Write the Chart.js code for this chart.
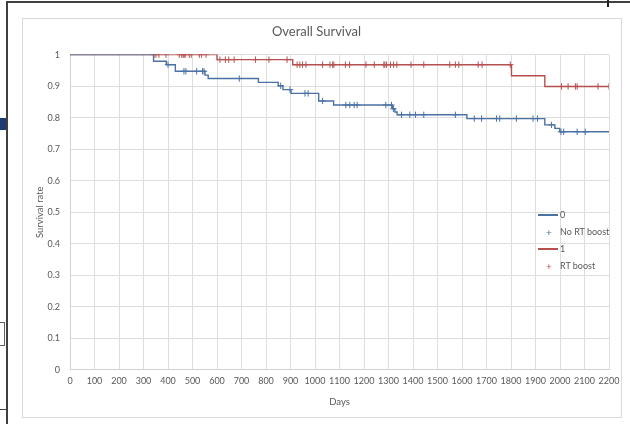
<!DOCTYPE html>
<html>
<head>
<meta charset="utf-8">
<script src="https://cdn.jsdelivr.net/npm/chart.js@4.4.1/dist/chart.umd.min.js"></script>
<style>
html,body{margin:0;padding:0;background:#fff;}
#wrap{position:relative;width:630px;height:424px;overflow:hidden;background:#fff;font-family:Lato,'Noto Sans',sans-serif;}
#panel{position:absolute;left:22px;top:18px;width:600px;height:400px;border:1px solid #d9d9d9;background:#fff;box-sizing:border-box;}
#c{position:absolute;left:0;top:0;}
.dk{position:absolute;background:#404040;}
.leg{position:absolute;font-size:9px;color:#595959;line-height:10px;white-space:nowrap;}
.lline{position:absolute;height:2px;}
.lplus{position:absolute;font-size:10px;line-height:10px;}
</style>
</head>
<body>
<div id="wrap">
  <div class="dk" style="left:6px;top:1px;width:624px;height:2px;"></div>
  <div class="dk" style="left:6px;top:1px;width:2px;height:423px;"></div>
  <div class="dk" style="left:607px;top:0px;width:2px;height:7px;background:#202020;"></div>
  <div style="position:absolute;left:0;top:118px;width:6px;height:12px;background:#1f3b73;"></div>
  <div style="position:absolute;left:-2px;top:322px;width:6px;height:22px;border:1px solid #606060;border-left:none;"></div>
  <div class="dk" style="left:0px;top:409px;width:8px;height:1px;"></div>
  <div id="panel"></div>
  <canvas id="c" width="630" height="424"></canvas>
  <div class="lline" style="left:538px;top:214px;width:20px;background:#4a72a5;"></div>
  <div class="leg" style="left:560px;top:210px;">0</div>
  <div class="lplus" style="left:546px;top:227px;color:#4a72a5;">+</div>
  <div class="leg" style="left:560px;top:227px;">No RT boost</div>
  <div class="lline" style="left:538px;top:248px;width:20px;background:#b5504f;"></div>
  <div class="leg" style="left:560px;top:244px;">1</div>
  <div class="lplus" style="left:546px;top:261px;color:#b5504f;">+</div>
  <div class="leg" style="left:560px;top:261px;">RT boost</div>
</div>
<script>
// Kaplan-Meier step points (day of drop, survival after drop)
const blueStepDays = [0, 341, 393, 430, 551, 564, 769, 850, 869, 902, 1015, 1076, 1316, 1326, 1335, 1620, 1938, 1979, 1999, 2200];
const blueStepSurv = [1, 0.979, 0.968, 0.947, 0.935, 0.924, 0.912, 0.901, 0.889, 0.877, 0.853, 0.840, 0.828, 0.818, 0.809, 0.797, 0.777, 0.766, 0.755, 0.755];
const redStepDays = [0, 600, 909, 1802, 1938, 2200];
const redStepSurv = [1, 0.984, 0.968, 0.933, 0.899, 0.899];
// Censored observations (days)
const blueCensorDays = [400, 465, 473, 517, 541, 547, 691, 860, 898, 959, 972, 1031, 1126, 1142, 1160, 1172, 1289, 1312, 1320, 1353, 1387, 1410, 1444, 1573, 1650, 1680, 1741, 1754, 1822, 1890, 1908, 1965, 2004, 2015, 2070, 2103];
const redCensorDays = [343, 351, 363, 392, 446, 456, 462, 466, 470, 487, 495, 528, 537, 555, 612, 634, 648, 670, 757, 812, 886, 927, 938, 949, 963, 1031, 1061, 1072, 1077, 1124, 1141, 1208, 1242, 1281, 1285, 1292, 1308, 1321, 1334, 1392, 1444, 1550, 1573, 1587, 1666, 1682, 1797, 2006, 2033, 2063, 2070, 2155, 2200];
const seriesLabels = ['0', 'No RT boost', '1', 'RT boost'];
const xTickLabels = ['0','100','200','300','400','500','600','700','800','900','1000','1100','1200','1300','1400','1500','1600','1700','1800','1900','2000','2100','2200'];
const yTickLabels = ['0','0.1','0.2','0.3','0.4','0.5','0.6','0.7','0.8','0.9','1'];
const xTickMin = 0, xTickMax = 2200, xTickStep = 100;
const yTickMin = 0, yTickMax = 1, yTickStep = 0.1;

const BLUE = '#4a72a5', RED = '#b5504f';

function curve(days, surv){ return days.map((d,i)=>({x:d, y:surv[i]})); }
function levelAt(days, surv, t){ let v = surv[0]; for(let i=0;i<days.length;i++){ if(days[i] <= t) v = surv[i]; } return v; }
function censor(cd, days, surv){ return cd.map(d=>({x:d, y:levelAt(days, surv, d)})); }

const FONT = 'Lato, "Noto Sans", sans-serif';
new Chart(document.getElementById('c'), {
  type: 'scatter',
  data: {
    datasets: [
      {label: seriesLabels[0], data: curve(blueStepDays, blueStepSurv), showLine: true, stepped: 'before', borderColor: BLUE, borderWidth: 1.4, pointRadius: 0, fill: false},
      {label: seriesLabels[1], data: censor(blueCensorDays, blueStepDays, blueStepSurv), showLine: false, pointStyle: 'cross', pointRadius: 3.2, borderColor: BLUE, backgroundColor: BLUE, borderWidth: 1},
      {label: seriesLabels[2], data: curve(redStepDays, redStepSurv), showLine: true, stepped: 'before', borderColor: RED, borderWidth: 1.4, pointRadius: 0, fill: false},
      {label: seriesLabels[3], data: censor(redCensorDays, redStepDays, redStepSurv), showLine: false, pointStyle: 'cross', pointRadius: 3.2, borderColor: RED, backgroundColor: RED, borderWidth: 1}
    ]
  },
  options: {
    responsive: false, animation: false,
    layout: {padding: {left: 24, right: 21, top: 24, bottom: 12}},
    plugins: {
      legend: {display: false},
      tooltip: {enabled: false},
      title: {display: true, text: 'Overall Survival', color: '#595959', font: {family: FONT, size: 13, weight: 'normal'}, padding: {top: 0, bottom: 15}}
    },
    scales: {
      x: {
        type: 'linear', min: xTickMin, max: xTickMax,
        ticks: {stepSize: xTickStep, color: '#595959', font: {family: FONT, size: 9}, padding: 6, maxRotation: 0, autoSkip: false,
                callback: (v) => xTickLabels[Math.round(v / xTickStep)]},
        grid: {color: '#dedede', drawTicks: false},
        border: {color: '#d0d0d0'},
        title: {display: true, text: 'Days', color: '#595959', font: {family: FONT, size: 9.5}, padding: {top: 4, bottom: 4}}
      },
      y: {
        min: yTickMin, max: yTickMax,
        ticks: {stepSize: yTickStep, color: '#595959', font: {family: FONT, size: 9}, padding: 10,
                callback: (v) => yTickLabels[Math.round(v / yTickStep)]},
        grid: {color: '#dedede', drawTicks: false},
        border: {color: '#d0d0d0'},
        title: {display: true, text: 'Survival rate', color: '#595959', font: {family: FONT, size: 9.5}, padding: {top: 10, bottom: 2}},
        afterFit: (s) => { s.width = 46; }
      }
    }
  }
});
</script>
</body>
</html>
